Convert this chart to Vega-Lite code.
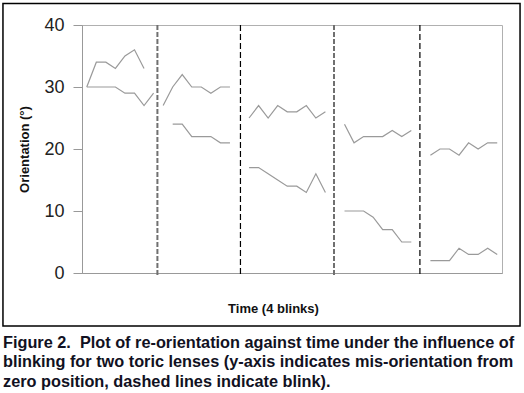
{
  "$schema": "https://vega.github.io/schema/vega-lite/v6.json",
  "autosize": "none",
  "width": 420,
  "height": 248,
  "padding": {"left": 82, "top": 25, "right": 22, "bottom": 120},
  "background": "white",
  "config": {
    "view": {"stroke": "#b0b0b0", "strokeWidth": 1},
    "font": "Liberation Sans"
  },
  "title": {
    "text": [
      "Figure 2.\u00a0 Plot of re-orientation against time under the influence of",
      "blinking for two toric lenses (y-axis indicates mis-orientation from",
      "zero position, dashed lines indicate blink)."
    ],
    "orient": "bottom",
    "anchor": "start",
    "frame": "group",
    "baseline": "top",
    "dx": -79,
    "offset": 8,
    "font": "Liberation Sans",
    "fontSize": 16.3,
    "fontWeight": "bold",
    "color": "#111122",
    "lineHeight": 19.5
  },
  "datasets": {
    "series": [
      {"t": 0, "value": 30, "series": "A1"},
      {"t": 1, "value": 34, "series": "A1"},
      {"t": 2, "value": 34, "series": "A1"},
      {"t": 3, "value": 33, "series": "A1"},
      {"t": 4, "value": 35, "series": "A1"},
      {"t": 5, "value": 36, "series": "A1"},
      {"t": 6, "value": 33, "series": "A1"},
      {"t": 0, "value": 30, "series": "B1"},
      {"t": 1, "value": 30, "series": "B1"},
      {"t": 2, "value": 30, "series": "B1"},
      {"t": 3, "value": 30, "series": "B1"},
      {"t": 4, "value": 29, "series": "B1"},
      {"t": 5, "value": 29, "series": "B1"},
      {"t": 6, "value": 27, "series": "B1"},
      {"t": 7, "value": 29, "series": "B1"},
      {"t": 8, "value": 27, "series": "A2"},
      {"t": 9, "value": 30, "series": "A2"},
      {"t": 10, "value": 32, "series": "A2"},
      {"t": 11, "value": 30, "series": "A2"},
      {"t": 12, "value": 30, "series": "A2"},
      {"t": 13, "value": 29, "series": "A2"},
      {"t": 14, "value": 30, "series": "A2"},
      {"t": 15, "value": 30, "series": "A2"},
      {"t": 9, "value": 24, "series": "B2"},
      {"t": 10, "value": 24, "series": "B2"},
      {"t": 11, "value": 22, "series": "B2"},
      {"t": 12, "value": 22, "series": "B2"},
      {"t": 13, "value": 22, "series": "B2"},
      {"t": 14, "value": 21, "series": "B2"},
      {"t": 15, "value": 21, "series": "B2"},
      {"t": 17, "value": 25, "series": "A3"},
      {"t": 18, "value": 27, "series": "A3"},
      {"t": 19, "value": 25, "series": "A3"},
      {"t": 20, "value": 27, "series": "A3"},
      {"t": 21, "value": 26, "series": "A3"},
      {"t": 22, "value": 26, "series": "A3"},
      {"t": 23, "value": 27, "series": "A3"},
      {"t": 24, "value": 25, "series": "A3"},
      {"t": 25, "value": 26, "series": "A3"},
      {"t": 17, "value": 17, "series": "B3"},
      {"t": 18, "value": 17, "series": "B3"},
      {"t": 19, "value": 16, "series": "B3"},
      {"t": 20, "value": 15, "series": "B3"},
      {"t": 21, "value": 14, "series": "B3"},
      {"t": 22, "value": 14, "series": "B3"},
      {"t": 23, "value": 13, "series": "B3"},
      {"t": 24, "value": 16, "series": "B3"},
      {"t": 25, "value": 13, "series": "B3"},
      {"t": 27, "value": 24, "series": "A4"},
      {"t": 28, "value": 21, "series": "A4"},
      {"t": 29, "value": 22, "series": "A4"},
      {"t": 30, "value": 22, "series": "A4"},
      {"t": 31, "value": 22, "series": "A4"},
      {"t": 32, "value": 23, "series": "A4"},
      {"t": 33, "value": 22, "series": "A4"},
      {"t": 34, "value": 23, "series": "A4"},
      {"t": 27, "value": 10, "series": "B4"},
      {"t": 28, "value": 10, "series": "B4"},
      {"t": 29, "value": 10, "series": "B4"},
      {"t": 30, "value": 9, "series": "B4"},
      {"t": 31, "value": 7, "series": "B4"},
      {"t": 32, "value": 7, "series": "B4"},
      {"t": 33, "value": 5, "series": "B4"},
      {"t": 34, "value": 5, "series": "B4"},
      {"t": 36, "value": 19, "series": "A5"},
      {"t": 37, "value": 20, "series": "A5"},
      {"t": 38, "value": 20, "series": "A5"},
      {"t": 39, "value": 19, "series": "A5"},
      {"t": 40, "value": 21, "series": "A5"},
      {"t": 41, "value": 20, "series": "A5"},
      {"t": 42, "value": 21, "series": "A5"},
      {"t": 43, "value": 21, "series": "A5"},
      {"t": 36, "value": 2, "series": "B5"},
      {"t": 37, "value": 2, "series": "B5"},
      {"t": 38, "value": 2, "series": "B5"},
      {"t": 39, "value": 4, "series": "B5"},
      {"t": 40, "value": 3, "series": "B5"},
      {"t": 41, "value": 3, "series": "B5"},
      {"t": 42, "value": 4, "series": "B5"},
      {"t": 43, "value": 3, "series": "B5"}
    ]
  },
  "layer": [
    {
      "data": {"values": [{"frame": 1}]},
      "mark": {"type": "rect", "filled": false, "stroke": "#000000", "strokeWidth": 1.5},
      "encoding": {
        "x": {"datum": -8.78, "type": "quantitative", "scale": {"domain": [-0.5, 43.5], "nice": false, "zero": false},
          "axis": {"title": "Time (4 blinks)", "labels": false, "ticks": false, "grid": false, "domainColor": "#999999", "titleFont": "Liberation Sans", "titleFontSize": 13, "titleFontWeight": "bold", "titleColor": "#111111", "titleX": 191, "titleY": 35, "titleBaseline": "middle", "titleAnchor": "middle"}},
        "x2": {"datum": 45.39},
        "y": {"datum": 43.47, "type": "quantitative", "scale": {"domain": [0, 40], "nice": false, "zero": false},
          "axis": {"title": "Orientation (°)", "values": [0, 10, 20, 30, 40], "grid": false, "tickSize": 9, "tickColor": "#999999", "domainColor": "#999999", "labelFont": "Liberation Sans", "labelFontSize": 18, "labelColor": "#222222", "labelPadding": 9, "titleFont": "Liberation Sans", "titleFontSize": 13, "titleFontWeight": "bold", "titleColor": "#111111", "titleX": -51, "titleY": 124, "titleAnchor": "middle"}},
        "y2": {"datum": -8.55}
      }
    },
    {
      "data": {"values": [{"t": 7.4}, {"t": 25.9}]},
      "mark": {"type": "rule", "color": "#707070", "strokeWidth": 2, "strokeDash": [5, 2]},
      "encoding": {
        "x": {"field": "t", "type": "quantitative"},
        "y": {"datum": 40, "type": "quantitative"},
        "y2": {"datum": -0.5}
      }
    },
    {
      "data": {"values": [{"t": 16.1}, {"t": 34.9}]},
      "mark": {"type": "rule", "color": "#000000", "strokeWidth": 1.2, "strokeDash": [6, 3]},
      "encoding": {
        "x": {"field": "t", "type": "quantitative"},
        "y": {"datum": 40, "type": "quantitative"},
        "y2": {"datum": -0.5}
      }
    },
    {
      "data": {"name": "series"},
      "mark": {"type": "line", "color": "#9a9a9a", "strokeWidth": 1.2},
      "encoding": {
        "x": {"field": "t", "type": "quantitative"},
        "y": {"field": "value", "type": "quantitative"},
        "detail": {"field": "series", "type": "nominal"}
      }
    }
  ]
}
